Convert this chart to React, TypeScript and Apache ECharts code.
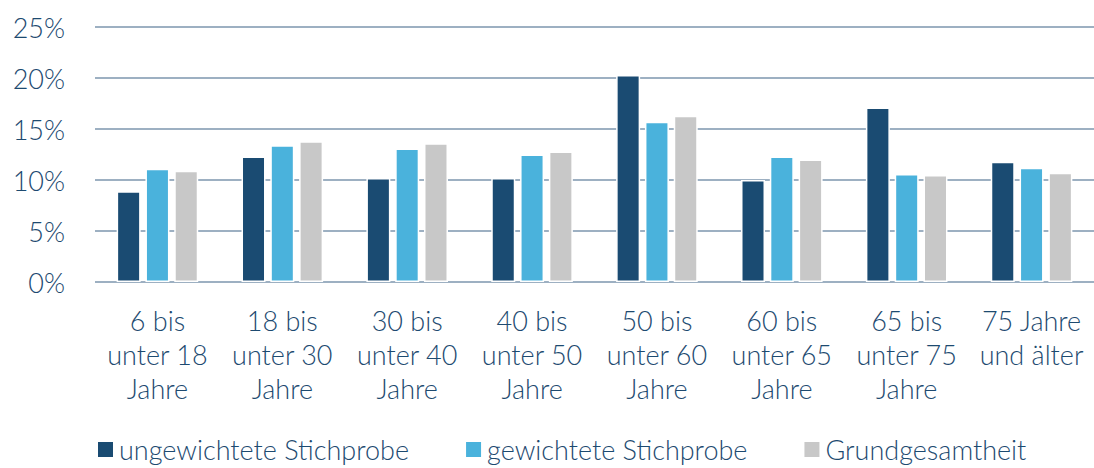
import React, { useEffect, useRef } from "react";
import * as echarts from "echarts";

const categories = [
  "6 bis\nunter 18\nJahre",
  "18 bis\nunter 30\nJahre",
  "30 bis\nunter 40\nJahre",
  "40 bis\nunter 50\nJahre",
  "50 bis\nunter 60\nJahre",
  "60 bis\nunter 65\nJahre",
  "65 bis\nunter 75\nJahre",
  "75 Jahre\nund älter",
];
const ungewichtet = [8.9, 12.3, 10.2, 10.2, 20.3, 10.0, 17.1, 11.8];
const gewichtet = [11.1, 13.4, 13.1, 12.5, 15.7, 12.3, 10.6, 11.2];
const grundgesamtheit = [10.9, 13.8, 13.6, 12.8, 16.3, 12.0, 10.5, 10.7];
const seriesNames = ["ungewichtete Stichprobe", "gewichtete Stichprobe", "Grundgesamtheit"];
const colors = ["#1a4b72", "#4ab2dc", "#c8c8c8"];

const FONT = "Lato";
const TEXT = "#1d4a70";
const FS = 27;

export default function App() {
  const ref = useRef<HTMLDivElement>(null);
  useEffect(() => {
    if (!ref.current) return;
    const chart = echarts.init(ref.current, null, { renderer: "svg" });
    const data = [ungewichtet, gewichtet, grundgesamtheit];
    chart.setOption({
      animation: false,
      textStyle: { fontFamily: FONT },
      grid: { left: 95, right: -5, top: 27, bottom: 186, containLabel: false },
      legend: {
        left: 91,
        bottom: 0,
        itemWidth: 17,
        itemHeight: 17,
        itemGap: 55,
        icon: "rect",
        textStyle: { fontFamily: FONT, fontSize: FS, color: TEXT, fontWeight: 300 },
        data: seriesNames,
      },
      xAxis: {
        type: "category",
        data: categories,
        axisLine: { show: false },
        axisTick: { show: false },
        axisLabel: {
          interval: 0,
          margin: 21,
          fontFamily: FONT,
          fontSize: FS,
          fontWeight: 300,
          lineHeight: 34,
          color: TEXT,
        },
      },
      yAxis: {
        type: "value",
        min: 0,
        max: 25,
        interval: 5,
        axisLabel: {
          formatter: "{value}%",
          margin: 30,
          fontFamily: FONT,
          fontSize: FS,
          fontWeight: 300,
          color: TEXT,
        },
        splitLine: { lineStyle: { color: "#9db0c2", width: 2 } },
        axisLine: { show: false },
        axisTick: { show: false },
      },
      series: data.map((d, i) => ({
        name: seriesNames[i],
        type: "bar",
        data: d,
        barWidth: 24,
        barGap: "20%",
        itemStyle: { color: colors[i], borderColor: "#ffffff", borderWidth: 1.5 },
      })),
    });
    return () => chart.dispose();
  }, []);
  return (
    <div
      ref={ref}
      style={{ position: "fixed", left: 0, top: 0, width: 1094, height: 468, background: "#fff" }}
    />
  );
}
